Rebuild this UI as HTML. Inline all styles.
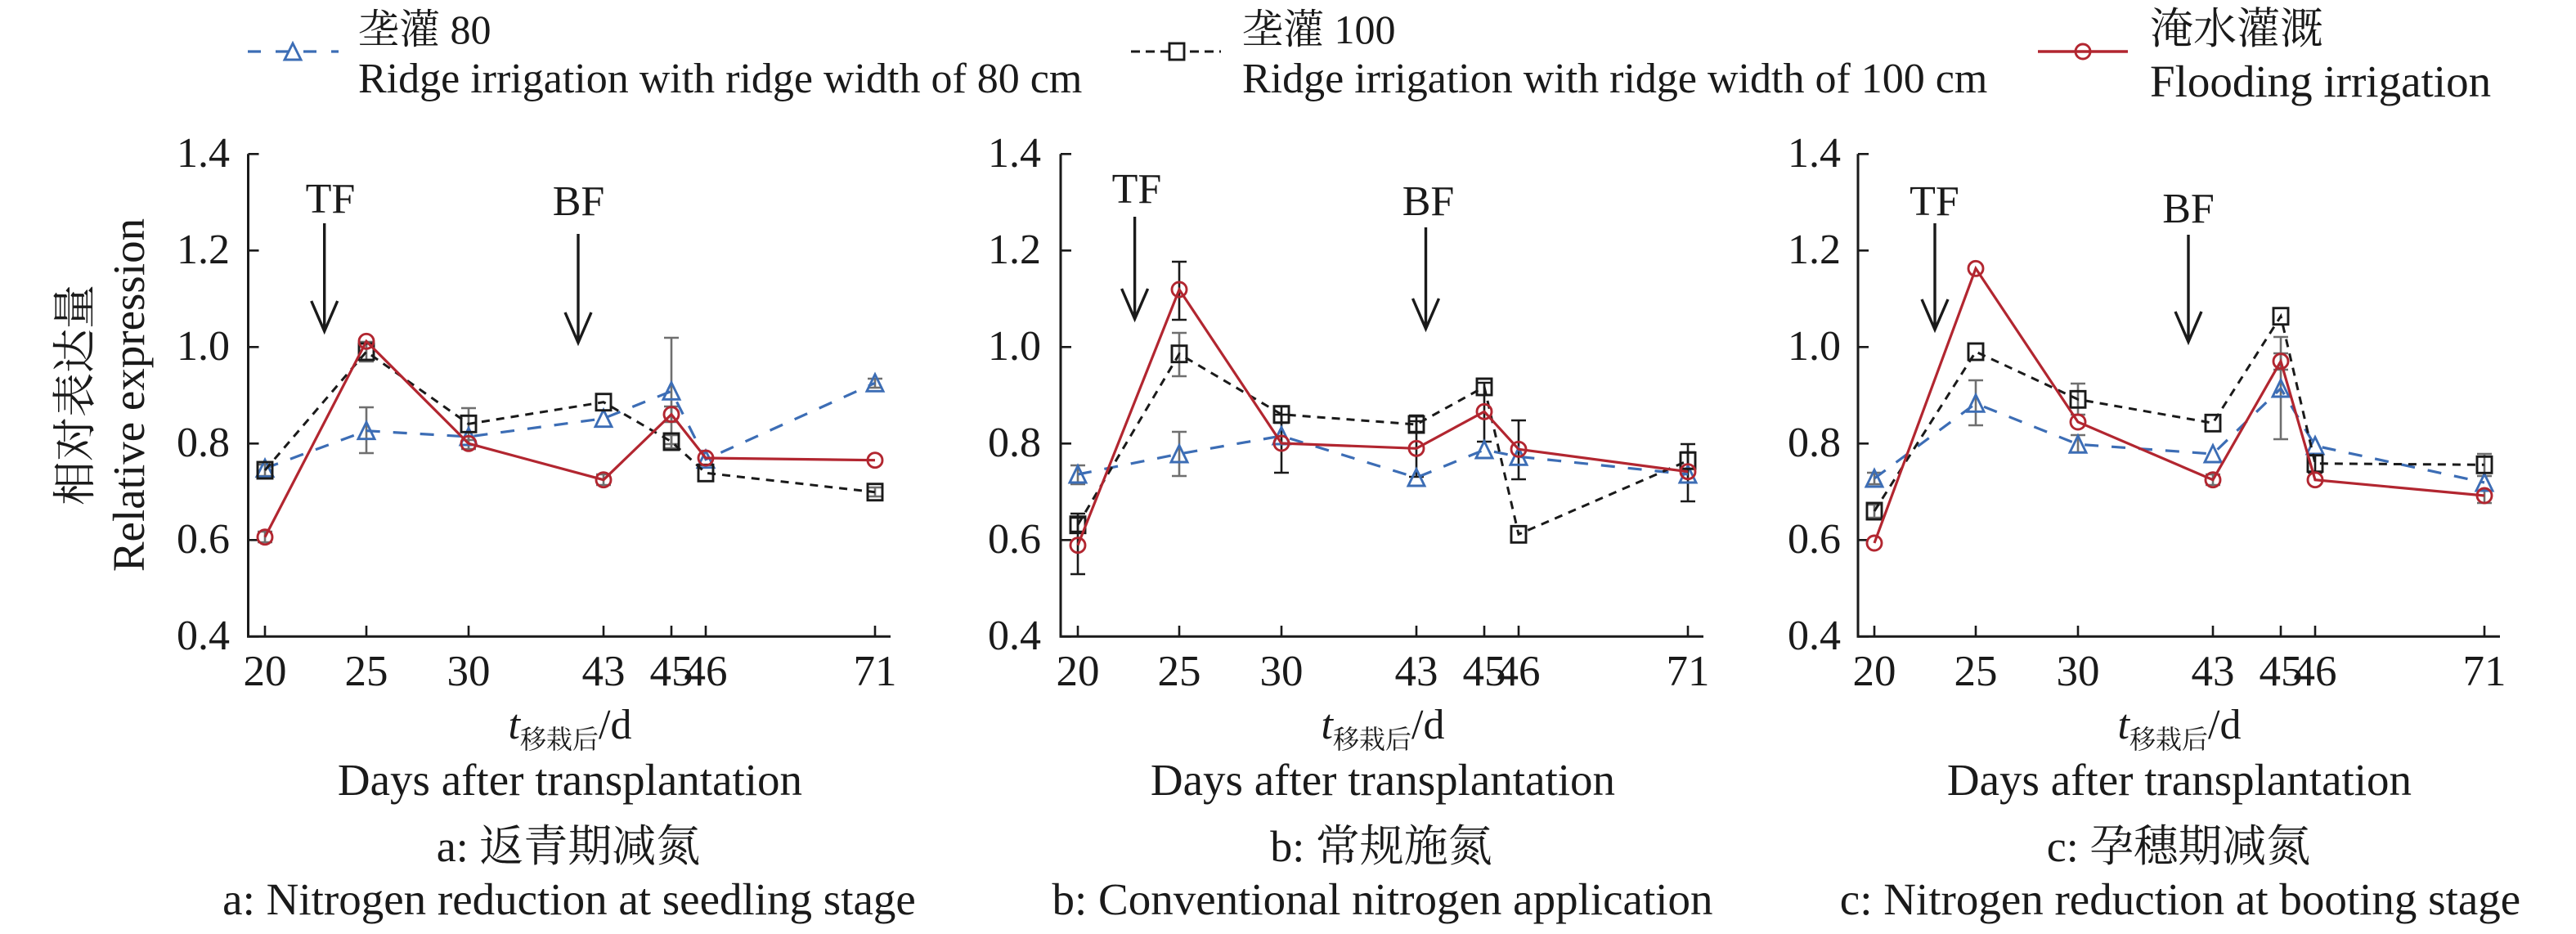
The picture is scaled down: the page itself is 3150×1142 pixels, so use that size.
<!DOCTYPE html>
<html>
<head>
<meta charset="utf-8">
<style>
html,body{margin:0;padding:0;background:#fff;}
body{width:3150px;height:1142px;overflow:hidden;}
svg{display:block;}
</style>
</head>
<body>
<svg width="3150" height="1142" viewBox="0 0 3150 1142" xmlns="http://www.w3.org/2000/svg" font-family="'Liberation Serif','Noto Serif CJK SC',serif" fill="#1a1a1a">
<defs>
<marker id="mt" markerWidth="30" markerHeight="30" refX="15" refY="15" markerUnits="userSpaceOnUse" overflow="visible"><polygon points="15,4.5 5,25 25,25" fill="none" stroke="#3c6db5" stroke-width="2.9" stroke-linejoin="miter"/></marker>
<marker id="ms" markerWidth="30" markerHeight="30" refX="15" refY="15" markerUnits="userSpaceOnUse" overflow="visible"><rect x="6" y="5" width="18" height="20" fill="none" stroke="#1a1a1a" stroke-width="2.9"/></marker>
<marker id="mc" markerWidth="30" markerHeight="30" refX="15" refY="15" markerUnits="userSpaceOnUse" overflow="visible"><circle cx="15" cy="15" r="9" fill="none" stroke="#b22630" stroke-width="2.9"/></marker>
</defs>

<!-- Legend -->
<line x1="303" y1="63" x2="414" y2="63" stroke="#3c6db5" stroke-width="3.2" stroke-dasharray="16 18"/>
<polygon points="358,53 348,73 368,73" fill="#fff" stroke="#3c6db5" stroke-width="2.9"/>
<text x="438" y="53" font-size="50">垄灌 80</text>
<text x="438" y="113" font-size="52">Ridge irrigation with ridge width of 80 cm</text>

<line x1="1383" y1="63" x2="1493" y2="63" stroke="#1a1a1a" stroke-width="3" stroke-dasharray="11 7"/>
<rect x="1430" y="53" width="18" height="20" fill="#fff" stroke="#1a1a1a" stroke-width="2.9"/>
<text x="1519" y="53" font-size="50">垄灌 100</text>
<text x="1519" y="113" font-size="52">Ridge irrigation with ridge width of 100 cm</text>

<line x1="2492" y1="63" x2="2602" y2="63" stroke="#b22630" stroke-width="3.4"/>
<circle cx="2547" cy="63" r="9" fill="none" stroke="#b22630" stroke-width="2.9"/>
<text x="2629" y="53" font-size="53">淹水灌溉</text>
<text x="2629" y="118" font-size="55">Flooding irrigation</text>

<!-- Y axis title (panel a) -->
<text transform="translate(110,483) rotate(-90)" text-anchor="middle" font-size="54">相对表达量</text>
<text transform="translate(176,483) rotate(-90)" text-anchor="middle" font-size="55">Relative expression</text>

<!-- ================= PANEL A ================= -->
<g stroke="#1a1a1a" stroke-width="3" fill="none">
<path d="M303.5 188.3 V778.3 H1089"/>
<path d="M303.5 188.3 h13 M303.5 306.3 h13 M303.5 424.3 h13 M303.5 542.3 h13 M303.5 660.3 h13 M303.5 778.3 h13" stroke-width="2.6"/>
<path d="M324 778 v-13 M448 778 v-13 M573 778 v-13 M738 778 v-13 M821 778 v-13 M863 778 v-13 M1070 778 v-13" stroke-width="2.6"/>
</g>
<g font-size="52" text-anchor="end">
<text x="281" y="204">1.4</text>
<text x="281" y="322">1.2</text>
<text x="281" y="440">1.0</text>
<text x="281" y="558">0.8</text>
<text x="281" y="676">0.6</text>
<text x="281" y="794">0.4</text>
</g>
<g font-size="53" text-anchor="middle">
<text x="324" y="838">20</text>
<text x="448" y="838">25</text>
<text x="573" y="838">30</text>
<text x="738" y="838">43</text>
<text x="821" y="838">45</text>
<text x="863" y="838">46</text>
<text x="1070" y="838">71</text>
</g>
<!-- arrows a -->
<g stroke="#1a1a1a" stroke-width="3.4" fill="none">
<path d="M396.7 273 V405 M380.7 368 L396.7 405 L412.7 368"/>
<path d="M707 286 V419 M691 382 L707 419 L723 382"/>
</g>
<text x="404" y="260" font-size="52" text-anchor="middle">TF</text>
<text x="707.5" y="263" font-size="52" text-anchor="middle">BF</text>
<!-- error bars a -->
<g stroke="#6f6f6f" stroke-width="2.6" fill="none">
<path d="M448 498 V554 M439 498 h18 M439 554 h18"/>
<path d="M821 413 V543 M812 413 h18 M812 543 h18"/>
<path d="M573 499 V538 M564 499 h18 M564 538 h18"/>
<path d="M448 418 V442 M439 418 h18 M439 442 h18"/>
<path d="M573 535 V549 M564 549 h18"/>
<path d="M738 580 V593 M729 580 h18 M729 593 h18"/>
<path d="M1070 463 V474 M1061 463 h18 M1061 474 h18"/>
<path d="M1070 596 V607 M1061 596 h18 M1061 607 h18"/>
<path d="M324 568 V582 M315 568 h18 M315 582 h18"/>
<path d="M324 650 V663 M315 650 h18 M315 663 h18"/>
<path d="M821 497 V516 M812 497 h18 M812 516 h18"/>
<path d="M821 532 V548 M812 532 h18 M812 548 h18"/>
</g>
<polyline points="324,572.7 448,526.7 573,534 738,511.7 821,478.3 863,561.7 1070,468.3" fill="none" stroke="#3c6db5" stroke-width="3.2" stroke-dasharray="17 16" marker-start="url(#mt)" marker-mid="url(#mt)" marker-end="url(#mt)"/>
<polyline points="324,575 448,430 573,518.3 738,491.7 821,540 863,578.3 1070,601.7" fill="none" stroke="#1a1a1a" stroke-width="3" stroke-dasharray="10 8" marker-start="url(#ms)" marker-mid="url(#ms)" marker-end="url(#ms)"/>
<polyline points="324,656.7 448,417.3 573,542.3 738,586.7 821,506.7 863,560 1070,562.7" fill="none" stroke="#b22630" stroke-width="3.2" marker-start="url(#mc)" marker-mid="url(#mc)" marker-end="url(#mc)"/>
<!-- captions a -->
<text x="697" y="903" text-anchor="middle" font-size="52"><tspan font-style="italic">t</tspan><tspan font-size="32" dy="12">移栽后</tspan><tspan dy="-12">/d</tspan></text>
<text x="697" y="972" text-anchor="middle" font-size="55">Days after transplantation</text>
<text x="695" y="1053" text-anchor="middle" font-size="54">a: 返青期减氮</text>
<text x="696" y="1118" text-anchor="middle" font-size="55">a: Nitrogen reduction at seedling stage</text>

<!-- ================= PANEL B ================= -->
<g stroke="#1a1a1a" stroke-width="3" fill="none">
<path d="M1297 188.3 V778.3 H2083"/>
<path d="M1297 188.3 h13 M1297 306.3 h13 M1297 424.3 h13 M1297 542.3 h13 M1297 660.3 h13 M1297 778.3 h13" stroke-width="2.6"/>
<path d="M1318 778 v-13 M1442 778 v-13 M1567 778 v-13 M1732 778 v-13 M1815 778 v-13 M1857 778 v-13 M2064 778 v-13" stroke-width="2.6"/>
</g>
<g font-size="52" text-anchor="end">
<text x="1273" y="204">1.4</text>
<text x="1273" y="322">1.2</text>
<text x="1273" y="440">1.0</text>
<text x="1273" y="558">0.8</text>
<text x="1273" y="676">0.6</text>
<text x="1273" y="794">0.4</text>
</g>
<g font-size="53" text-anchor="middle">
<text x="1318" y="838">20</text>
<text x="1442" y="838">25</text>
<text x="1567" y="838">30</text>
<text x="1732" y="838">43</text>
<text x="1815" y="838">45</text>
<text x="1857" y="838">46</text>
<text x="2064" y="838">71</text>
</g>
<g stroke="#1a1a1a" stroke-width="3.4" fill="none">
<path d="M1387.6 265 V390 M1371.6 353 L1387.6 390 L1403.6 353"/>
<path d="M1743.5 278 V402 M1727.5 365 L1743.5 402 L1759.5 365"/>
</g>
<text x="1390" y="248" font-size="52" text-anchor="middle">TF</text>
<text x="1746.5" y="263" font-size="52" text-anchor="middle">BF</text>
<g stroke="#6f6f6f" stroke-width="2.6" fill="none">
<path d="M1318 569 V592 M1309 569 h18 M1309 592 h18"/>
<path d="M1442 528 V582 M1433 528 h18 M1433 582 h18"/>
<path d="M1442 407 V460 M1433 407 h18 M1433 460 h18"/>
</g>
<g stroke="#1a1a1a" stroke-width="2.6" fill="none">
<path d="M1442 320 V391 M1433 320 h18 M1433 391 h18"/>
<path d="M1318 628 V702 M1309 628 h18 M1309 702 h18"/>
<path d="M1567 507 V578 M1558 507 h18 M1558 578 h18"/>
<path d="M1567 497 V517 M1558 497 h18 M1558 517 h18"/>
<path d="M1732 515 V583 M1723 515 h18 M1723 583 h18"/>
<path d="M1732 508 V528 M1723 508 h18 M1723 528 h18"/>
<path d="M1815 468 V540 M1806 468 h18 M1806 540 h18"/>
<path d="M1857 514 V586 M1848 514 h18 M1848 586 h18"/>
<path d="M2064 543 V613 M2055 543 h18 M2055 613 h18"/>
<path d="M2064 553 V573 M2055 553 h18 M2055 573 h18"/>
<path d="M1318 633 V650 M1309 633 h18 M1309 650 h18"/>
</g>
<polyline points="1318,580 1442,555 1567,533 1732,584 1815,550 1857,558.3 2064,580" fill="none" stroke="#3c6db5" stroke-width="3.2" stroke-dasharray="17 16" marker-start="url(#mt)" marker-mid="url(#mt)" marker-end="url(#mt)"/>
<polyline points="1318,641.7 1442,432.7 1567,506.7 1732,519 1815,473 1857,653.3 2064,563.3" fill="none" stroke="#1a1a1a" stroke-width="3" stroke-dasharray="10 8" marker-start="url(#ms)" marker-mid="url(#ms)" marker-end="url(#ms)"/>
<polyline points="1318,666.7 1442,354 1567,542 1732,548.3 1815,503.3 1857,549.3 2064,576.7" fill="none" stroke="#b22630" stroke-width="3.2" marker-start="url(#mc)" marker-mid="url(#mc)" marker-end="url(#mc)"/>
<text x="1691" y="903" text-anchor="middle" font-size="52"><tspan font-style="italic">t</tspan><tspan font-size="32" dy="12">移栽后</tspan><tspan dy="-12">/d</tspan></text>
<text x="1691" y="972" text-anchor="middle" font-size="55">Days after transplantation</text>
<text x="1689" y="1053" text-anchor="middle" font-size="54">b: 常规施氮</text>
<text x="1690.5" y="1118" text-anchor="middle" font-size="55">b: Conventional nitrogen application</text>

<!-- ================= PANEL C ================= -->
<g stroke="#1a1a1a" stroke-width="3" fill="none">
<path d="M2272 188.3 V778.3 H3057"/>
<path d="M2272 188.3 h13 M2272 306.3 h13 M2272 424.3 h13 M2272 542.3 h13 M2272 660.3 h13 M2272 778.3 h13" stroke-width="2.6"/>
<path d="M2292 778 v-13 M2416 778 v-13 M2541 778 v-13 M2706 778 v-13 M2789 778 v-13 M2831 778 v-13 M3038 778 v-13" stroke-width="2.6"/>
</g>
<g font-size="52" text-anchor="end">
<text x="2251" y="204">1.4</text>
<text x="2251" y="322">1.2</text>
<text x="2251" y="440">1.0</text>
<text x="2251" y="558">0.8</text>
<text x="2251" y="676">0.6</text>
<text x="2251" y="794">0.4</text>
</g>
<g font-size="53" text-anchor="middle">
<text x="2292" y="838">20</text>
<text x="2416" y="838">25</text>
<text x="2541" y="838">30</text>
<text x="2706" y="838">43</text>
<text x="2789" y="838">45</text>
<text x="2831" y="838">46</text>
<text x="3038" y="838">71</text>
</g>
<g stroke="#1a1a1a" stroke-width="3.4" fill="none">
<path d="M2366 273 V403 M2350 366 L2366 403 L2382 366"/>
<path d="M2676 287 V418 M2660 381 L2676 418 L2692 381"/>
</g>
<text x="2365.5" y="263" font-size="52" text-anchor="middle">TF</text>
<text x="2676" y="272" font-size="52" text-anchor="middle">BF</text>
<g stroke="#6f6f6f" stroke-width="2.6" fill="none">
<path d="M2416 465 V520 M2407 465 h18 M2407 520 h18"/>
<path d="M2789 412 V537 M2780 412 h18 M2780 537 h18"/>
<path d="M2541 469 V507 M2532 469 h18 M2532 507 h18"/>
<path d="M2789 432 V452 M2780 432 h18 M2780 452 h18"/>
<path d="M2541 532 V553 M2532 532 h18 M2532 553 h18"/>
<path d="M3038 555 V582 M3029 555 h18 M3029 582 h18"/>
<path d="M2292 617 V633 M2283 617 h18 M2283 633 h18"/>
<path d="M2292 578 V592 M2283 578 h18 M2283 592 h18"/>
<path d="M3038 600 V615 M3029 600 h18 M3029 615 h18"/>
<path d="M2706 580 V593 M2697 580 h18 M2697 593 h18"/>
</g>
<g stroke="#1a1a1a" stroke-width="2.6" fill="none">
<path d="M2831 555 V578 M2822 555 h18 M2822 578 h18"/>
</g>
<polyline points="2292,585 2416,493.3 2541,543.3 2706,555 2789,475 2831,545 3038,590" fill="none" stroke="#3c6db5" stroke-width="3.2" stroke-dasharray="17 16" marker-start="url(#mt)" marker-mid="url(#mt)" marker-end="url(#mt)"/>
<polyline points="2292,625 2416,430 2541,488.3 2706,517.3 2789,386.7 2831,566.7 3038,568.3" fill="none" stroke="#1a1a1a" stroke-width="3" stroke-dasharray="10 8" marker-start="url(#ms)" marker-mid="url(#ms)" marker-end="url(#ms)"/>
<polyline points="2292,664 2416,328.3 2541,516 2706,586.7 2789,441.7 2831,586.7 3038,606" fill="none" stroke="#b22630" stroke-width="3.2" marker-start="url(#mc)" marker-mid="url(#mc)" marker-end="url(#mc)"/>
<text x="2665" y="903" text-anchor="middle" font-size="52"><tspan font-style="italic">t</tspan><tspan font-size="32" dy="12">移栽后</tspan><tspan dy="-12">/d</tspan></text>
<text x="2665" y="972" text-anchor="middle" font-size="55">Days after transplantation</text>
<text x="2664" y="1053" text-anchor="middle" font-size="54">c: 孕穗期减氮</text>
<text x="2666" y="1118" text-anchor="middle" font-size="55">c: Nitrogen reduction at booting stage</text>
</svg>
</body>
</html>
